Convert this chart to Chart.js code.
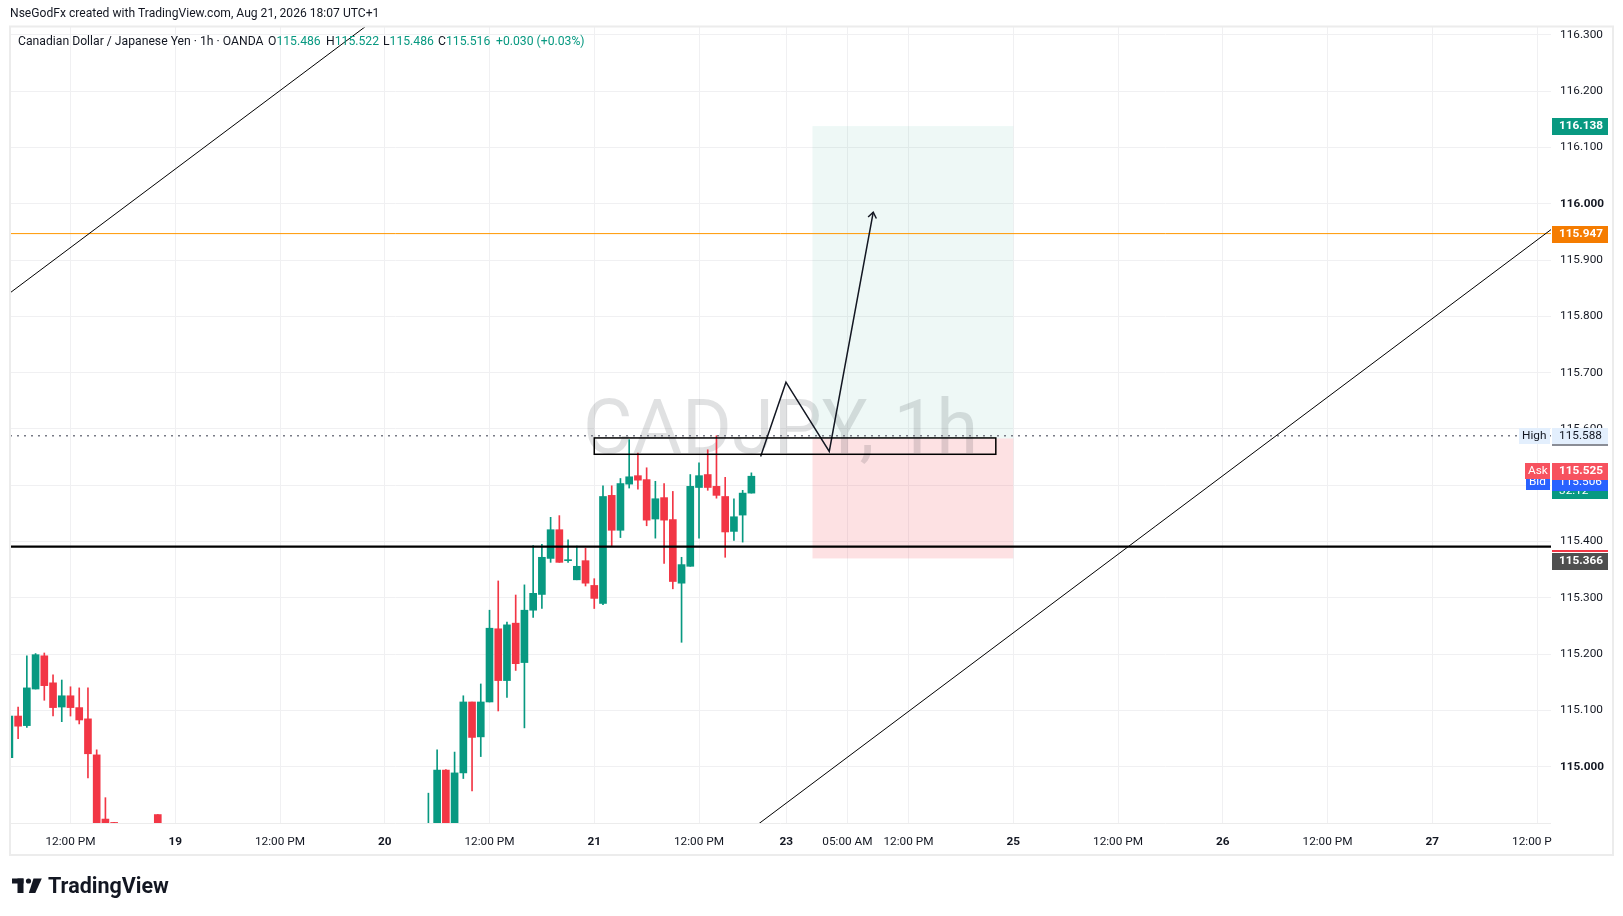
<!DOCTYPE html>
<html>
<head>
<meta charset="utf-8">
<title>CADJPY 1h</title>
<script src="https://cdn.jsdelivr.net/npm/chart.js@4.4.1/dist/chart.umd.min.js"></script>
<style>
  html, body { margin: 0; padding: 0; background: #fff; }
  #wrap { width: 1623px; height: 916px; position: relative; }
</style>
</head>
<body>
<div id="wrap"><canvas id="chart" width="1623" height="916"></canvas></div>
<script>
// hour index: 0 = Aug 18 12:00 PM, weekend gap collapsed like TradingView
const hours  = [-7, -6, -5, -4, -3, -2, -1, 0, 1, 2, 3, 4, 5, 10,
                41, 42, 43, 44, 45, 46, 47, 48, 49, 50, 51, 52, 53, 54, 55, 56, 57, 58, 59, 60,
                61, 62, 63, 64, 65, 66, 67, 68, 69, 70, 71, 72, 73, 74, 75, 76, 77, 78];
const opens  = [115.016, 115.090, 115.073, 115.138, 115.197, 115.149, 115.106, 115.126, 115.105, 115.085, 115.021, 114.907, 114.901, 114.915,
                114.850, 114.870, 114.994, 114.880, 114.989, 115.115, 115.053, 115.115, 115.245, 115.153, 115.255, 115.185, 115.278, 115.306, 115.370, 115.421, 115.366, 115.332, 115.366, 115.322,
                115.290, 115.482, 115.420, 115.502, 115.517, 115.510, 115.440, 115.478, 115.439, 115.326, 115.356, 115.496, 115.519, 115.498, 115.480, 115.418, 115.447, 115.486];
const highs  = [115.095, 115.106, 115.197, 115.201, 115.202, 115.163, 115.154, 115.142, 115.140, 115.140, 115.030, 114.945, 114.901, 114.915,
                114.953, 115.030, 114.995, 115.026, 115.126, 115.115, 115.147, 115.278, 115.330, 115.257, 115.305, 115.323, 115.393, 115.395, 115.443, 115.446, 115.403, 115.392, 115.388, 115.334,
                115.499, 115.499, 115.512, 115.581, 115.557, 115.531, 115.507, 115.503, 115.489, 115.372, 115.519, 115.540, 115.563, 115.588, 115.514, 115.476, 115.491, 115.522];
const lows   = [115.010, 115.050, 115.070, 115.138, 115.118, 115.090, 115.080, 115.090, 115.076, 114.980, 114.860, 114.850, 114.850, 114.860,
                114.840, 114.860, 114.870, 114.870, 114.979, 114.957, 115.018, 115.115, 115.099, 115.123, 115.171, 115.069, 115.265, 115.281, 115.363, 115.363, 115.363, 115.332, 115.321, 115.281,
                115.288, 115.392, 115.407, 115.495, 115.493, 115.428, 115.406, 115.361, 115.316, 115.221, 115.356, 115.406, 115.491, 115.477, 115.372, 115.402, 115.399, 115.486];
const closes = [115.090, 115.072, 115.140, 115.199, 115.144, 115.105, 115.126, 115.105, 115.083, 115.023, 114.880, 114.870, 114.860, 114.870,
                114.890, 114.994, 114.880, 114.989, 115.115, 115.052, 115.115, 115.246, 115.153, 115.252, 115.183, 115.278, 115.308, 115.372, 115.421, 115.363, 115.367, 115.356, 115.326, 115.299,
                115.480, 115.420, 115.503, 115.515, 115.509, 115.438, 115.476, 115.438, 115.329, 115.359, 115.498, 115.517, 115.496, 115.482, 115.417, 115.444, 115.486, 115.516];

const timeTicks  = [0, 12, 24, 36, 48, 60, 72, 82, 89, 96, 108, 120, 132, 144, 156, 168];
const timeLabels = ['12:00 PM', '19', '12:00 PM', '20', '12:00 PM', '21', '12:00 PM', '23', '05:00 AM',
                    '12:00 PM', '25', '12:00 PM', '26', '12:00 PM', '27', '12:00 PM'];
const priceTicks = [115.0, 115.1, 115.2, 115.3, 115.4, 115.5, 115.6, 115.7, 115.8, 115.9, 116.0, 116.1, 116.2, 116.3];

// drawings
const upperTrendX = [-10, 40];
const upperTrendY = [115.806, 116.387];
const lowerTrendX = [75, 172];
const lowerTrendY = [114.854, 115.982];
const zigX = [79.06, 81.96, 86.92, 91.96];
const zigY = [115.551, 115.683, 115.560, 115.985];
const boxX = [60, 106];
const boxY = [115.555, 115.584];
const posX = [85, 108];
const posTarget = 116.138, posEntry = 115.583, posStop = 115.370;
const orangeLevel = 115.947;
const blackLevel = 115.391;
const highLevel = 115.588;
const askPrice = 115.525, bidPrice = 115.506, stopLabel = 115.366;

const UP = '#089981', DOWN = '#f23645', INK = '#131722';
const FONT = 'Roboto, "Noto Sans", sans-serif';
const AXIS_PX = 11.8;
const X_MIN = -6.93, X_MAX = 169.6;

const candleColors = hours.map((h, i) => closes[i] >= opens[i] ? UP : DOWN);
const pts = (xs, ys) => xs.map((x, i) => ({ x: x, y: ys[i] }));

function priceBox(ctx, y, text, bg, fg, bold) {
    ctx.fillStyle = bg;
    ctx.fillRect(1552, Math.round(y) - 8, 56, 17);
    ctx.fillStyle = fg;
    ctx.font = (bold ? 'bold ' : '') + AXIS_PX + 'px ' + FONT;
    ctx.textAlign = 'left';
    ctx.textBaseline = 'middle';
    ctx.fillText(text, 1559, Math.round(y) + 0.5);
}

function tagBox(ctx, y, text, left, bg, fg) {
    ctx.fillStyle = bg;
    ctx.fillRect(left, Math.round(y) - 8, 1550 - left, 16);
    ctx.fillStyle = fg;
    ctx.font = AXIS_PX + 'px ' + FONT;
    ctx.textAlign = 'left';
    ctx.textBaseline = 'middle';
    ctx.fillText(text, left + 3, Math.round(y) + 0.5);
}

const overlay = {
    id: 'overlay',
    beforeDatasetsDraw(chart) {
        const ctx = chart.ctx, xs = chart.scales.x, ys = chart.scales.y, a = chart.chartArea;
        ctx.save();
        ctx.beginPath();
        ctx.rect(a.left, a.top, a.right - a.left, a.bottom - a.top);
        ctx.clip();
        // position tool zones
        const l = xs.getPixelForValue(posX[0]), r = xs.getPixelForValue(posX[1]);
        const yT = ys.getPixelForValue(posTarget), yE = ys.getPixelForValue(posEntry), yS = ys.getPixelForValue(posStop);
        ctx.fillStyle = 'rgba(8,153,129,0.07)';
        ctx.fillRect(l, yT, r - l, yE - yT);
        ctx.fillStyle = 'rgba(242,54,69,0.15)';
        ctx.fillRect(l, yE, r - l, yS - yE);
        // watermark
        ctx.fillStyle = 'rgba(19,23,34,0.13)';
        ctx.font = '76px ' + FONT;
        ctx.textAlign = 'center';
        ctx.textBaseline = 'alphabetic';
        ctx.fillText('CADJPY, 1h', (a.left + a.right) / 2, 453);
        ctx.restore();
    },
    afterDatasetsDraw(chart) {
        const ctx = chart.ctx, xs = chart.scales.x, ys = chart.scales.y;
        ctx.save();
        // rectangle zone
        const bx0 = xs.getPixelForValue(boxX[0]), bx1 = xs.getPixelForValue(boxX[1]);
        const by0 = ys.getPixelForValue(boxY[1]), by1 = ys.getPixelForValue(boxY[0]);
        ctx.strokeStyle = '#000';
        ctx.lineWidth = 1.5;
        ctx.strokeRect(bx0, by0, bx1 - bx0, by1 - by0);
        // arrow head at end of the path
        const n = zigX.length;
        const tx = xs.getPixelForValue(zigX[n - 1]), ty = ys.getPixelForValue(zigY[n - 1]);
        const fx = xs.getPixelForValue(zigX[n - 2]), fy = ys.getPixelForValue(zigY[n - 2]);
        const ang = Math.atan2(ty - fy, tx - fx);
        ctx.strokeStyle = INK;
        ctx.lineWidth = 1.5;
        ctx.beginPath();
        ctx.moveTo(tx + 7 * Math.cos(ang + 2.5), ty + 7 * Math.sin(ang + 2.5));
        ctx.lineTo(tx, ty);
        ctx.lineTo(tx + 7 * Math.cos(ang - 2.5), ty + 7 * Math.sin(ang - 2.5));
        ctx.stroke();
        ctx.restore();
    },
    afterDraw(chart) {
        const ctx = chart.ctx, ys = chart.scales.y, a = chart.chartArea;
        ctx.save();
        // hide the time label overflowing into the price scale corner
        ctx.fillStyle = '#fff';
        ctx.fillRect(a.right + 1, a.bottom + 1, 1612 - a.right, 31);

        // frame
        ctx.strokeStyle = '#ececec';
        ctx.lineWidth = 2;
        ctx.strokeRect(10, 26.5, 1603, 828.5);
        ctx.lineWidth = 1;
        ctx.beginPath();
        ctx.moveTo(10, a.bottom + 0.5);
        ctx.lineTo(a.right, a.bottom + 0.5);
        ctx.stroke();

        // header
        ctx.fillStyle = INK;
        ctx.font = '12.1px ' + FONT;
        ctx.textAlign = 'left';
        ctx.textBaseline = 'middle';
        ctx.fillText('NseGodFx created with TradingView.com, Aug 21, 2026 18:07 UTC+1', 10, 14);

        // legend
        const last = closes.length - 1;
        const chg = closes[last] - closes[last - 1];
        ctx.font = '12.2px ' + FONT;
        ctx.fillText('Canadian Dollar / Japanese Yen \u00b7 1h \u00b7 OANDA', 18, 42);
        const parts = [['O', opens[last], 268], ['H', highs[last], 326], ['L', lows[last], 383], ['C', closes[last], 438]];
        parts.forEach(([k, v, x]) => {
            ctx.fillStyle = INK;
            ctx.fillText(k, x, 42);
            ctx.fillStyle = UP;
            ctx.fillText(v.toFixed(3), x + ctx.measureText(k).width, 42);
        });
        ctx.fillStyle = UP;
        ctx.fillText('+' + chg.toFixed(3) + ' (+' + (chg / closes[last - 1] * 100).toFixed(2) + '%)', 496, 42);

        // price scale labels
        priceBox(ctx, ys.getPixelForValue(posTarget), posTarget.toFixed(3), UP, '#fff', true);
        priceBox(ctx, ys.getPixelForValue(orangeLevel), orangeLevel.toFixed(3), '#f57c00', '#fff', true);

        const yH = ys.getPixelForValue(highLevel);
        tagBox(ctx, yH, 'High', 1519, '#e3effd', INK);
        priceBox(ctx, yH, highLevel.toFixed(3), '#e3effd', INK, false);
        ctx.fillStyle = '#8a8d96';
        ctx.fillRect(1552, Math.round(yH) + 8, 56, 2);

        const yC = ys.getPixelForValue(closes[last]);
        ctx.fillStyle = UP;
        ctx.fillRect(1552, Math.round(yC) - 8, 56, 31);
        ctx.fillStyle = '#fff';
        ctx.font = AXIS_PX + 'px ' + FONT;
        ctx.fillText('32:12', 1559, Math.round(yC) + 15);
        const yB = ys.getPixelForValue(bidPrice);
        tagBox(ctx, yB, 'Bid', 1526, '#2962ff', '#fff');
        priceBox(ctx, yB, bidPrice.toFixed(3), '#2962ff', '#fff', false);
        const yA = ys.getPixelForValue(askPrice);
        tagBox(ctx, yA, 'Ask', 1525, '#f7525f', '#fff');
        priceBox(ctx, yA, askPrice.toFixed(3), '#f7525f', '#fff', true);

        const yS = ys.getPixelForValue(stopLabel);
        ctx.fillStyle = DOWN;
        ctx.fillRect(1552, Math.round(yS) - 11, 56, 2);
        priceBox(ctx, yS, stopLabel.toFixed(3), '#4f4f4f', '#fff', true);

        // logo
        ctx.fillStyle = INK;
        ctx.fillRect(12, 878.5, 11.5, 5);
        ctx.fillRect(17.5, 878.5, 6, 14.5);
        ctx.beginPath();
        ctx.arc(28.5, 881, 2.6, 0, Math.PI * 2);
        ctx.fill();
        ctx.beginPath();
        ctx.moveTo(33.5, 878.5);
        ctx.lineTo(41.8, 878.5);
        ctx.lineTo(35.3, 893);
        ctx.lineTo(28.8, 893);
        ctx.closePath();
        ctx.fill();
        ctx.font = 'bold 21.5px ' + FONT;
        ctx.textBaseline = 'alphabetic';
        ctx.fillText('TradingView', 48, 893);
        ctx.restore();
    }
};

function isDateTick(c) {
    return c.tick !== undefined && timeLabels[c.index] !== undefined && timeLabels[c.index].indexOf(':') < 0;
}
function isRoundPrice(c) {
    return c.tick !== undefined && Math.abs(c.tick.value - Math.round(c.tick.value)) < 1e-6;
}

new Chart(document.getElementById('chart'), {
    type: 'bar',
    data: {
        datasets: [
            { type: 'line', data: pts(upperTrendX, upperTrendY), borderColor: '#000', borderWidth: 1, pointRadius: 0, order: 1 },
            { type: 'line', data: pts(lowerTrendX, lowerTrendY), borderColor: '#000', borderWidth: 1, pointRadius: 0, order: 1 },
            { type: 'line', data: pts(zigX, zigY), borderColor: INK, borderWidth: 1.5, pointRadius: 0, order: 1 },
            { type: 'line', data: pts([X_MIN, X_MAX], [orangeLevel, orangeLevel]), borderColor: '#ff9800', borderWidth: 1, pointRadius: 0, order: 2 },
            { type: 'line', data: pts([X_MIN, X_MAX], [blackLevel, blackLevel]), borderColor: '#000', borderWidth: 2.2, pointRadius: 0, order: 2 },
            { type: 'line', data: pts([X_MIN, X_MAX], [highLevel, highLevel]), borderColor: '#787b86', borderWidth: 1.6, borderDash: [2, 5], pointRadius: 0, order: 2 },
            { label: 'bodies', data: hours.map((h, i) => ({ x: h, y: [opens[i], closes[i]] })),
              backgroundColor: candleColors, barThickness: 7, minBarLength: 1, grouped: false, order: 10 },
            { label: 'wicks', data: hours.map((h, i) => ({ x: h, y: [lows[i], highs[i]] })),
              backgroundColor: candleColors, barThickness: 1, grouped: false, order: 11 }
        ]
    },
    options: {
        responsive: false,
        animation: false,
        events: [],
        layout: { padding: { left: 10, right: 10, top: 27, bottom: 61 } },
        plugins: { legend: { display: false }, tooltip: { enabled: false } },
        scales: {
            x: {
                type: 'linear', min: X_MIN, max: X_MAX, offset: false,
                afterBuildTicks: s => { s.ticks = timeTicks.map(v => ({ value: v })); },
                afterFit: s => { s.height = 32; },
                grid: { color: '#f0f0f2', drawTicks: false, offset: false },
                border: { display: false },
                ticks: {
                    autoSkip: false, maxRotation: 0, padding: 12, color: INK,
                    font: c => ({ family: FONT, size: AXIS_PX, weight: isDateTick(c) ? 'bold' : 'normal' }),
                    callback: (v, i) => timeLabels[i]
                }
            },
            y: {
                position: 'right', min: 114.9, max: 116.314,
                afterBuildTicks: s => { s.ticks = priceTicks.map(v => ({ value: v })); },
                afterFit: s => { s.width = 62; },
                grid: { color: '#f0f0f2', drawTicks: false },
                border: { display: false },
                ticks: {
                    padding: 9, color: INK,
                    font: c => ({ family: FONT, size: AXIS_PX, weight: isRoundPrice(c) ? 'bold' : 'normal' }),
                    callback: v => Number(v).toFixed(3)
                }
            }
        }
    },
    plugins: [overlay]
});
</script>
</body>
</html>
